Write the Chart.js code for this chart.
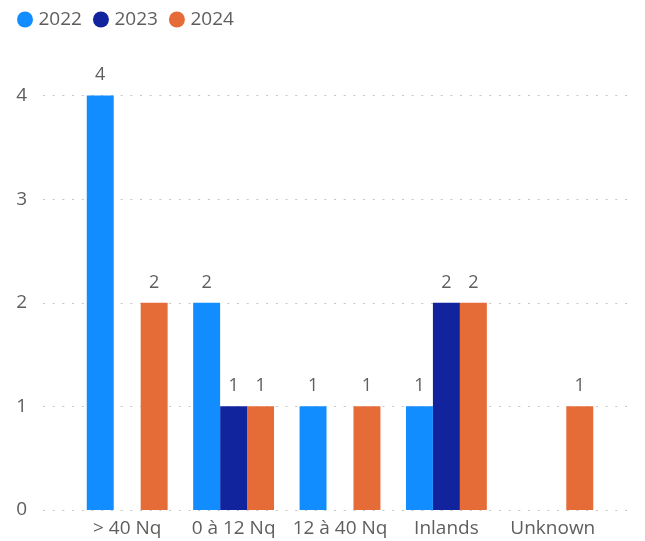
<!DOCTYPE html>
<html>
<head>
<meta charset="utf-8">
<script src="https://cdn.jsdelivr.net/npm/chart.js@4.4.1/dist/chart.umd.min.js"></script>
<style>
html,body{margin:0;padding:0;background:#fff;}
#wrap{width:645px;height:541px;position:relative;}
</style>
</head>
<body>
<div id="wrap"><canvas id="c" width="645" height="541"></canvas></div>
<script>
const categories = ['> 40 Nq', '0 à 12 Nq', '12 à 40 Nq', 'Inlands', 'Unknown'];
const seriesNames = ['2022', '2023', '2024'];
const values2022 = [4, 2, 1, 1, null];
const values2023 = [null, 1, null, 2, null];
const values2024 = [2, 1, 1, 2, 1];
const yTicks = [0, 1, 2, 3, 4];
const colors = ['#118DFF', '#12239E', '#E66C37'];

const FONT = "'Open Sans', 'Noto Sans', sans-serif";
const TEXT = '#605E5C';

const gridPlugin = {
  id: 'dotGrid',
  beforeDatasetsDraw(chart) {
    const ctx = chart.ctx, y = chart.scales.y;
    ctx.save();
    ctx.strokeStyle = '#C8C6C4';
    ctx.lineWidth = 1;
    ctx.setLineDash([2, 7.7]);
    yTicks.forEach(v => {
      const py = Math.round(y.getPixelForValue(v)) + 0.5;
      ctx.beginPath();
      ctx.moveTo(43, py);
      ctx.lineTo(634, py);
      ctx.stroke();
    });
    ctx.restore();
  }
};

const labelPlugin = {
  id: 'barLabels',
  afterDatasetsDraw(chart) {
    const ctx = chart.ctx;
    ctx.save();
    ctx.font = '18px ' + FONT;
    ctx.fillStyle = TEXT;
    ctx.textAlign = 'center';
    ctx.textBaseline = 'alphabetic';
    chart.data.datasets.forEach((ds, i) => {
      const meta = chart.getDatasetMeta(i);
      meta.data.forEach((bar, j) => {
        const v = ds.data[j];
        if (v === null || v === undefined) return;
        ctx.fillText(String(v), bar.x, bar.y - 15);
      });
    });
    ctx.restore();
  }
};

new Chart(document.getElementById('c'), {
  type: 'bar',
  data: {
    labels: categories,
    datasets: [
      { label: seriesNames[0], data: values2022, backgroundColor: colors[0] },
      { label: seriesNames[1], data: values2023, backgroundColor: colors[1] },
      { label: seriesNames[2], data: values2024, backgroundColor: colors[2] }
    ]
  },
  options: {
    responsive: false,
    animation: false,
    devicePixelRatio: 1,
    layout: { padding: { left: 6, right: 39, top: -5, bottom: 0 } },
    datasets: { bar: { categoryPercentage: 0.76, barPercentage: 1.0 } },
    plugins: {
      tooltip: { enabled: false },
      legend: {
        position: 'top',
        align: 'start',
        labels: {
          usePointStyle: true,
          pointStyle: 'circle',
          boxWidth: 8,
          boxHeight: 11.3,
          padding: 15,
          color: TEXT,
          font: { family: FONT, size: 19 }
        }
      }
    },
    scales: {
      x: {
        grid: { display: false, drawTicks: false },
        border: { display: false },
        ticks: { color: TEXT, font: { family: FONT, size: 19 }, padding: 7, maxRotation: 0 },
        afterFit(s) { s.height = 31; }
      },
      y: {
        min: 0,
        max: 4.545,
        grid: { display: false, drawTicks: false },
        border: { display: false },
        ticks: { stepSize: 1, color: TEXT, font: { family: FONT, size: 19 }, padding: 47 },
        afterBuildTicks(s) { s.ticks = yTicks.map(v => ({ value: v })); },
        afterFit(s) { s.width = 68; s.paddingTop = 10; s.paddingBottom = 10; }
      }
    }
  },
  plugins: [gridPlugin, labelPlugin]
});
</script>
</body>
</html>
